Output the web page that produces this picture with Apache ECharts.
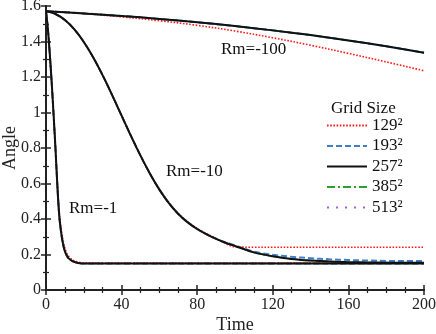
<!DOCTYPE html>
<html>
<head>
<meta charset="utf-8">
<script src="https://cdn.jsdelivr.net/npm/echarts@6/dist/echarts.min.js"></script>
<style>
  html, body { margin: 0; padding: 0; background: #fff; }
  #chart { width: 436px; height: 334px; }
</style>
</head>
<body>
<div id="chart"></div>
<script>
// grid sizes (legend)
const gridSizes = ['129²', '193²', '257²', '385²', '513²'];

// Rm=-1
const tRm1 = [0, 1, 2, 3, 4, 5, 6, 7, 8, 9, 10, 11, 12, 14, 16, 18, 20, 30, 50, 100, 150, 200];
const rm1Fine = [1.571, 1.47, 1.33, 1.17, 0.99, 0.80, 0.59, 0.42, 0.325, 0.26, 0.218, 0.194, 0.178, 0.163, 0.155, 0.151, 0.150, 0.150, 0.150, 0.150, 0.150, 0.150];
const rm1G129 = [1.571, 1.47, 1.33, 1.17, 0.99, 0.80, 0.60, 0.44, 0.345, 0.28, 0.235, 0.207, 0.19, 0.17, 0.16, 0.155, 0.153, 0.152, 0.152, 0.152, 0.152, 0.152];

// Rm=-10
const tRm10 = [0, 5, 10, 15, 20, 25, 30, 35, 40, 45, 50, 55, 60, 65, 70, 75, 80, 85, 90, 95, 100, 110, 120, 130, 140, 150, 160, 170, 180, 190, 200];
const rm10Fine = [1.571, 1.555, 1.521, 1.4685, 1.3975, 1.31, 1.209, 1.098, 0.982, 0.867, 0.757, 0.6555, 0.5655, 0.4895, 0.4285, 0.381, 0.3435, 0.3135, 0.288, 0.266, 0.248, 0.212, 0.19, 0.175, 0.166, 0.16, 0.157, 0.155, 0.154, 0.153, 0.153];
const rm10G129 = [1.571, 1.555, 1.521, 1.4685, 1.3975, 1.31, 1.209, 1.098, 0.982, 0.867, 0.757, 0.6555, 0.568, 0.493, 0.431, 0.384, 0.347, 0.318, 0.29, 0.262, 0.243, 0.241, 0.241, 0.241, 0.241, 0.241, 0.241, 0.241, 0.241, 0.241, 0.241];
const rm10G193 = [1.571, 1.555, 1.521, 1.4685, 1.3975, 1.31, 1.209, 1.098, 0.982, 0.867, 0.757, 0.6555, 0.5655, 0.4895, 0.4285, 0.381, 0.3435, 0.3135, 0.289, 0.268, 0.251, 0.216, 0.199, 0.187, 0.179, 0.173, 0.169, 0.166, 0.164, 0.163, 0.163];

// Rm=-100
const tRm100 = [0, 20, 40, 60, 80, 100, 120, 140, 160, 180, 200];
const rm100Fine = [1.571, 1.5583, 1.5439, 1.5274, 1.5084, 1.4868, 1.4627, 1.436, 1.406, 1.373, 1.337];
const rm100G129 = [1.571, 1.557, 1.539, 1.517, 1.491, 1.459, 1.421, 1.379, 1.333, 1.285, 1.235];

const styles = {
  '129²': { color: '#ff1a1a', width: 1.6, type: [1.6, 1.6] },
  '193²': { color: '#3f7fc8', width: 2, type: [6, 3] },
  '257²': { color: '#111111', width: 2, type: 'solid' },
  '385²': { color: '#2ca02c', width: 1.6, type: [8, 3, 2, 3] },
  '513²': { color: '#b05cd0', width: 1.6, type: [2, 7] }
};

// curves per grid size: [t, values]
const curves = {
  '129²': [[tRm1, rm1G129], [tRm10, rm10G129], [tRm100, rm100G129]],
  '193²': [[tRm1, rm1Fine], [tRm10, rm10G193], [tRm100, rm100Fine]],
  '257²': [[tRm1, rm1Fine], [tRm10, rm10Fine], [tRm100, rm100Fine]],
  '385²': [[tRm1, rm1Fine], [tRm10, rm10Fine], [tRm100, rm100Fine]],
  '513²': [[tRm1, rm1Fine], [tRm10, rm10Fine], [tRm100, rm100Fine]]
};

// draw order: black on top
const drawOrder = ['513²', '385²', '193²', '129²', '257²'];

const series = [];
drawOrder.forEach(name => {
  const s = styles[name];
  curves[name].forEach(([t, v]) => {
    series.push({
      name: name,
      type: 'line',
      symbol: 'none',
      smooth: 0.35,
      lineStyle: { color: s.color, width: s.width, type: s.type },
      itemStyle: { color: s.color },
      data: t.map((x, i) => [x, v[i]])
    });
  });
});

const font = "'Liberation Serif', 'Times New Roman', Tinos, Times, serif";
const tickStyle = { inside: true, length: 5, lineStyle: { color: '#222', width: 1.5 } };
const minorStyle = { show: true, length: 3, lineStyle: { color: '#222', width: 1.2 } };
const textStyle = (size, text) => ({ font: size + 'px ' + font, fill: '#111', text: text });

const chart = echarts.init(document.getElementById('chart'));
chart.setOption({
  animation: false,
  grid: { left: 46, right: 12, top: 6, bottom: 44, containLabel: false, outerBoundsMode: 'none' },
  legend: {
    data: gridSizes,
    orient: 'vertical',
    left: 321,
    top: 112,
    itemWidth: 40,
    itemHeight: 14,
    itemGap: 3.5,
    itemStyle: { opacity: 0 },
    textStyle: { fontFamily: font, fontSize: 17, color: '#111' }
  },
  xAxis: [{
    type: 'value', min: 0, max: 200, interval: 40,
    name: 'Time', nameLocation: 'middle', nameGap: 26, nameMoveOverlap: false,
    nameTextStyle: { fontFamily: font, fontSize: 18, color: '#222' },
    axisLine: { lineStyle: { color: '#222', width: 2 } },
    axisTick: tickStyle,
    minorTick: Object.assign({ splitNumber: 4 }, minorStyle),
    splitLine: { show: false },
    axisLabel: { fontFamily: font, fontSize: 16, color: '#222', margin: 7 }
  }, {
    type: 'value', min: 0, max: 200, interval: 40, position: 'top',
    axisLine: { lineStyle: { color: '#222', width: 2 } },
    axisTick: tickStyle,
    minorTick: Object.assign({ splitNumber: 4 }, minorStyle),
    splitLine: { show: false },
    axisLabel: { show: false }
  }],
  yAxis: [{
    type: 'value', min: 0, max: 1.6, interval: 0.2,
    name: 'Angle', nameLocation: 'middle', nameGap: 27, nameMoveOverlap: false,
    nameTextStyle: { fontFamily: font, fontSize: 18, color: '#222' },
    axisLine: { show: true, lineStyle: { color: '#222', width: 2 } },
    axisTick: tickStyle,
    minorTick: Object.assign({ splitNumber: 2 }, minorStyle),
    splitLine: { show: false },
    axisLabel: { fontFamily: font, fontSize: 16, color: '#222', margin: 5 }
  }, {
    type: 'value', min: 0, max: 1.6, interval: 0.2, position: 'right',
    axisLine: { show: true, lineStyle: { color: '#222', width: 2 } },
    axisTick: tickStyle,
    minorTick: Object.assign({ splitNumber: 2 }, minorStyle),
    splitLine: { show: false },
    axisLabel: { show: false }
  }],
  graphic: [
    { type: 'text', left: 331, top: 100, style: textStyle(17, 'Grid Size') },
    { type: 'text', left: 221, top: 41, style: textStyle(17, 'Rm=-100') },
    { type: 'text', left: 166, top: 163, style: textStyle(17, 'Rm=-10') },
    { type: 'text', left: 69, top: 200, style: textStyle(17, 'Rm=-1') }
  ],
  series: series
});
</script>
</body>
</html>
